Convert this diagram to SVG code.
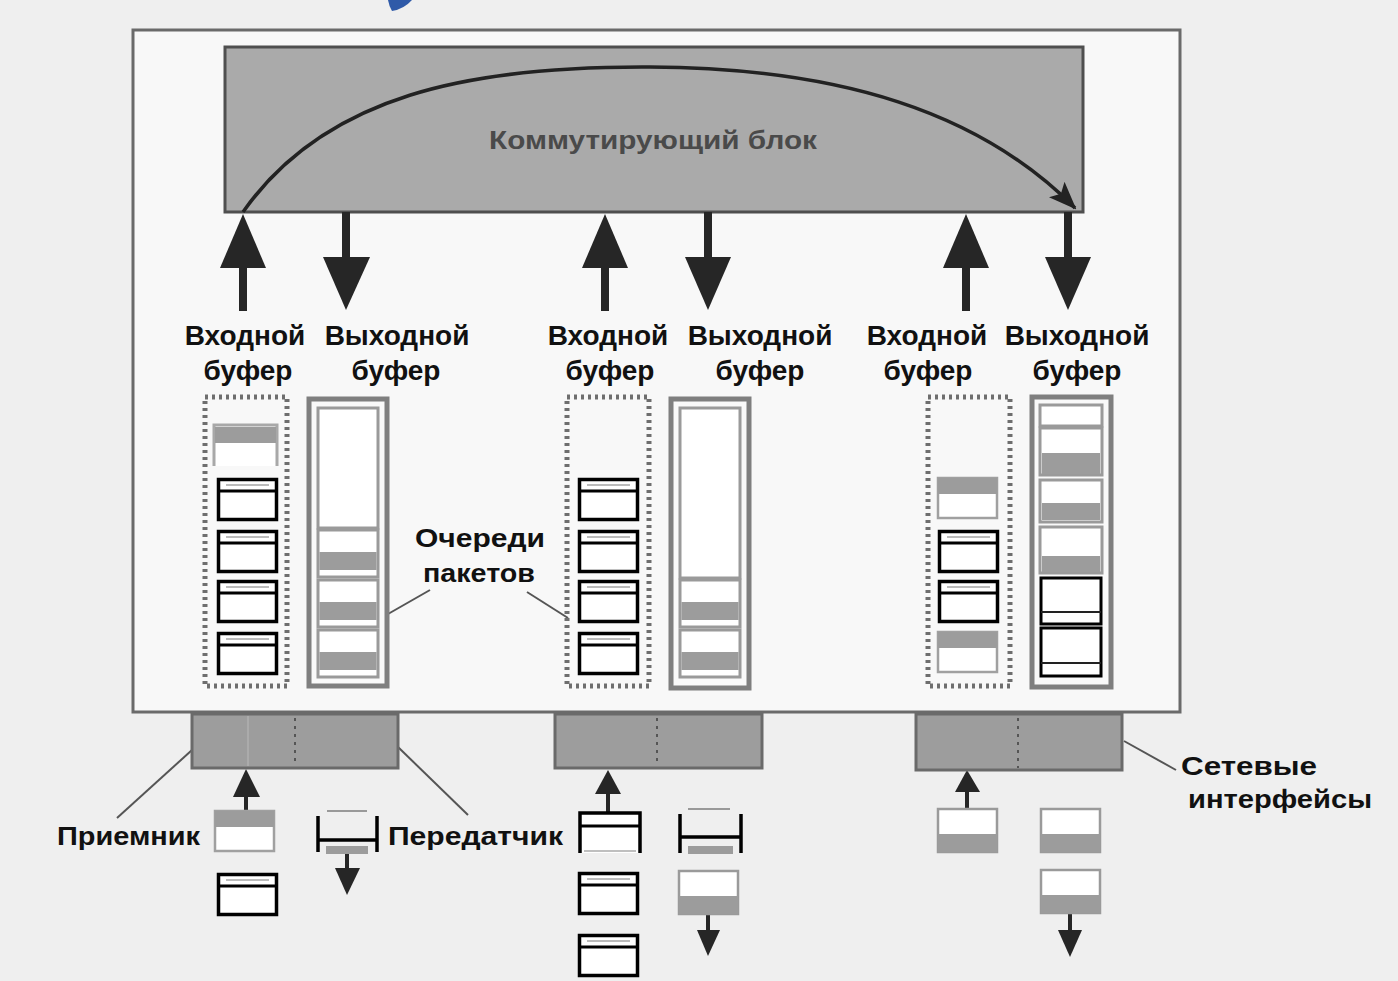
<svg xmlns="http://www.w3.org/2000/svg" xmlns:xlink="http://www.w3.org/1999/xlink" width="1398" height="981" viewBox="0 0 1398 981">
<style>
.lbl{font-family:"Liberation Sans",Arial,sans-serif;font-weight:bold;font-size:28px;fill:#111;text-anchor:middle}
.lbl2{font-family:"Liberation Sans",Arial,sans-serif;font-weight:bold;font-size:26px;fill:#111}
.dot{fill:none;stroke:#6e6e6e;stroke-width:5;stroke-dasharray:3 4}
.obuf{fill:#f9f9f9;stroke:#7f7f7f;stroke-width:5}
.oin{fill:#fff;stroke:#9a9a9a;stroke-width:3}
.band{fill:#9c9c9c}
.fade{fill:#fff;stroke:#a8a8a8;stroke-width:3}
.arr{fill:#262626}
.conn{stroke:#555;stroke-width:2;fill:none}
.iface{fill:#9d9d9d;stroke:#6a6a6a;stroke-width:3}
.divl{stroke:#555;stroke-width:2;stroke-dasharray:3 5}
</style>
<defs>
<g id="pk">
<rect x="1.5" y="1.5" width="58" height="40" fill="#fff" stroke="#000" stroke-width="3.5"/>
<line x1="1.5" y1="13" x2="59.5" y2="13" stroke="#000" stroke-width="3"/>
<line x1="9" y1="7" x2="52" y2="7" stroke="#bbb" stroke-width="2"/>
</g>
<g id="gpb">
<rect x="1" y="1" width="59" height="43" fill="#fff" stroke="#9a9a9a" stroke-width="2.5"/>
<rect x="1" y="26" width="59" height="18" class="band"/>
</g>
<g id="gpt">
<rect x="1" y="1" width="59" height="40" fill="#fff" stroke="#a0a0a0" stroke-width="2.5"/>
<rect x="1" y="1" width="59" height="16" class="band"/>
</g>
<g id="opk">
<rect x="0" y="0" width="60" height="47" fill="#fff" stroke="#9a9a9a" stroke-width="3"/>
<rect x="1.5" y="22" width="57" height="18" class="band"/>
</g>
<marker id="ah" markerWidth="28" markerHeight="22" refX="26" refY="11" orient="auto" markerUnits="userSpaceOnUse" viewBox="0 0 28 22">
<path d="M0,0 L28,11 L0,22 L6,11 Z" fill="#222"/>
</marker>
</defs>

<rect x="0" y="0" width="1398" height="981" fill="#efefef"/>
<path d="M388,0 L412,0 Q404,9 392,11 Q389,6 388,0 Z" fill="#2f5aa8"/>

<g id="router">
<rect x="133" y="30" width="1047" height="682" fill="#f8f8f8" stroke="#6a6a6a" stroke-width="3"/>
</g>

<g id="switch">
<rect x="225" y="47" width="858" height="165" fill="#aaaaaa" stroke="#4f4f4f" stroke-width="3"/>
<text x="653" y="149" font-family="'Liberation Sans',Arial,sans-serif" font-weight="bold" font-size="26" fill="#4a4a4a" text-anchor="middle" textLength="328" lengthAdjust="spacingAndGlyphs">Коммутирующий блок</text>
</g>

<g id="connectors">
<path d="M243,212 C325,95 470,66 650,67 C840,68 980,112 1075,208" fill="none" stroke="#222" stroke-width="3.5" marker-end="url(#ah)"/>
<!-- port arrows -->
<rect x="239" y="265" width="8" height="46" class="arr"/><polygon points="243,214 220,268 266,268" class="arr"/>
<rect x="342" y="212" width="8" height="48" class="arr"/><polygon points="323,257 370,257 346,310" class="arr"/>
<rect x="601" y="265" width="8" height="46" class="arr"/><polygon points="605,214 582,268 628,268" class="arr"/>
<rect x="704" y="212" width="8" height="48" class="arr"/><polygon points="685,257 731,257 708,310" class="arr"/>
<rect x="962" y="265" width="8" height="46" class="arr"/><polygon points="966,214 943,268 989,268" class="arr"/>
<rect x="1064" y="212" width="8" height="48" class="arr"/><polygon points="1045,257 1091,257 1068,310" class="arr"/>
<!-- callout lines -->
<line x1="430" y1="590" x2="388" y2="614" class="conn"/>
<line x1="527" y1="592" x2="568" y2="618" class="conn"/>
<line x1="192" y1="750" x2="117" y2="818" class="conn"/>
<line x1="398" y1="747" x2="468" y2="815" class="conn"/>
<line x1="1124" y1="741" x2="1176" y2="770" class="conn"/>
<!-- bottom arrows -->
<rect x="244" y="795" width="4" height="16" class="arr"/><polygon points="246,769 233,797 260,797" class="arr"/>
<rect x="345" y="853" width="4" height="17" class="arr"/><polygon points="335,868 360,868 347,895" class="arr"/>
<rect x="606" y="792" width="4" height="20" class="arr"/><polygon points="608,770 595,794 621,794" class="arr"/>
<rect x="706" y="915" width="4" height="17" class="arr"/><polygon points="697,930 720,930 708,956" class="arr"/>
<rect x="965" y="790" width="4" height="20" class="arr"/><polygon points="967,770 955,792 980,792" class="arr"/>
<rect x="1068" y="913" width="4" height="19" class="arr"/><polygon points="1058,930 1082,930 1070,957" class="arr"/>
</g>

<g id="port1">
<text x="245" y="345" class="lbl">Входной</text>
<text x="248" y="380" class="lbl">буфер</text>
<text x="397" y="345" class="lbl">Выходной</text>
<text x="396" y="380" class="lbl">буфер</text>
<rect x="205" y="397" width="82" height="289" class="dot"/>
<path d="M214,466 V425 H277 V466" class="fade"/><rect x="215" y="427" width="61" height="16" class="band"/>
<use xlink:href="#pk" x="217" y="478"/>
<use xlink:href="#pk" x="217" y="530"/>
<use xlink:href="#pk" x="217" y="580"/>
<use xlink:href="#pk" x="217" y="632"/>
<rect x="309" y="399" width="78" height="287" class="obuf"/>
<rect x="318" y="408" width="60" height="120" class="oin"/>
<use xlink:href="#opk" x="318" y="530"/>
<use xlink:href="#opk" x="318" y="580"/>
<use xlink:href="#opk" x="318" y="630"/>
<rect x="192" y="714" width="206" height="54" class="iface"/>
<line x1="295" y1="718" x2="295" y2="766" class="divl"/>
<line x1="248" y1="716" x2="248" y2="766" stroke="#b0b0b0" stroke-width="1.5"/>
<use xlink:href="#gpt" x="214" y="810"/>
<use xlink:href="#pk" x="217" y="873"/>
<line x1="327" y1="811" x2="367" y2="811" stroke="#999" stroke-width="2"/>
<line x1="318" y1="816" x2="318" y2="852" stroke="#000" stroke-width="3.5"/>
<line x1="377" y1="816" x2="377" y2="852" stroke="#000" stroke-width="3.5"/>
<line x1="318" y1="840" x2="377" y2="840" stroke="#000" stroke-width="3.5"/>
<rect x="326" y="846" width="42" height="8" class="band"/>
<text x="57" y="845" class="lbl2" textLength="143" lengthAdjust="spacingAndGlyphs">Приемник</text>
<text x="388" y="845" class="lbl2" textLength="175" lengthAdjust="spacingAndGlyphs">Передатчик</text>
</g>

<g id="port2">
<text x="608" y="345" class="lbl">Входной</text>
<text x="610" y="380" class="lbl">буфер</text>
<text x="760" y="345" class="lbl">Выходной</text>
<text x="760" y="380" class="lbl">буфер</text>
<rect x="567" y="397" width="82" height="289" class="dot"/>
<use xlink:href="#pk" x="578" y="478"/>
<use xlink:href="#pk" x="578" y="530"/>
<use xlink:href="#pk" x="578" y="580"/>
<use xlink:href="#pk" x="578" y="632"/>
<rect x="671" y="399" width="78" height="289" class="obuf"/>
<rect x="680" y="408" width="60" height="170" class="oin"/>
<use xlink:href="#opk" x="680" y="580"/>
<use xlink:href="#opk" x="680" y="630"/>
<text x="415" y="547" class="lbl2" textLength="130" lengthAdjust="spacingAndGlyphs">Очереди</text>
<text x="423" y="582" class="lbl2" textLength="112" lengthAdjust="spacingAndGlyphs">пакетов</text>
<rect x="555" y="714" width="207" height="54" class="iface"/>
<line x1="657" y1="718" x2="657" y2="766" class="divl"/>
<path d="M580,853 V813 H640 V853" fill="#fff" stroke="#000" stroke-width="3.5"/>
<line x1="580" y1="826" x2="640" y2="826" stroke="#000" stroke-width="3"/>
<line x1="584" y1="851" x2="636" y2="851" stroke="#aaa" stroke-width="1.5"/>
<use xlink:href="#pk" x="578" y="872"/>
<use xlink:href="#pk" x="578" y="934"/>
<line x1="688" y1="809" x2="730" y2="809" stroke="#999" stroke-width="2"/>
<line x1="680" y1="814" x2="680" y2="853" stroke="#000" stroke-width="3.5"/>
<line x1="741" y1="814" x2="741" y2="853" stroke="#000" stroke-width="3.5"/>
<line x1="680" y1="837" x2="741" y2="837" stroke="#000" stroke-width="3.5"/>
<rect x="688" y="846" width="45" height="8" class="band"/>
<use xlink:href="#gpb" x="678" y="870"/>
</g>

<g id="port3">
<text x="927" y="345" class="lbl">Входной</text>
<text x="928" y="380" class="lbl">буфер</text>
<text x="1077" y="345" class="lbl">Выходной</text>
<text x="1077" y="380" class="lbl">буфер</text>
<rect x="928" y="397" width="82" height="289" class="dot"/>
<use xlink:href="#gpt" x="937" y="477"/>
<use xlink:href="#pk" x="938" y="530"/>
<use xlink:href="#pk" x="938" y="580"/>
<use xlink:href="#gpt" x="937" y="631"/>
<rect x="1032" y="397" width="79" height="290" class="obuf"/>
<rect x="1040" y="405" width="62" height="21" class="oin"/>
<rect x="1040" y="428" width="62" height="47" class="oin"/><rect x="1042" y="453" width="58" height="21" class="band"/>
<rect x="1040" y="480" width="62" height="42" class="oin"/><rect x="1042" y="503" width="58" height="17" class="band"/>
<rect x="1040" y="527" width="62" height="46" class="oin"/><rect x="1042" y="556" width="58" height="16" class="band"/>
<rect x="1041" y="578" width="60" height="46" fill="#fff" stroke="#000" stroke-width="3"/>
<line x1="1041" y1="612" x2="1101" y2="612" stroke="#222" stroke-width="2"/>
<rect x="1041" y="628" width="60" height="48" fill="#fff" stroke="#000" stroke-width="3"/>
<line x1="1041" y1="663" x2="1101" y2="663" stroke="#222" stroke-width="2"/>
<rect x="916" y="714" width="206" height="56" class="iface"/>
<line x1="1018" y1="718" x2="1018" y2="768" class="divl"/>
<use xlink:href="#gpb" x="937" y="808"/>
<use xlink:href="#gpb" x="1040" y="808"/>
<use xlink:href="#gpb" x="1040" y="869"/>
<text x="1181" y="775" class="lbl2" textLength="136" lengthAdjust="spacingAndGlyphs">Сетевые</text>
<text x="1188" y="808" class="lbl2" textLength="184" lengthAdjust="spacingAndGlyphs">интерфейсы</text>
</g>
</svg>
